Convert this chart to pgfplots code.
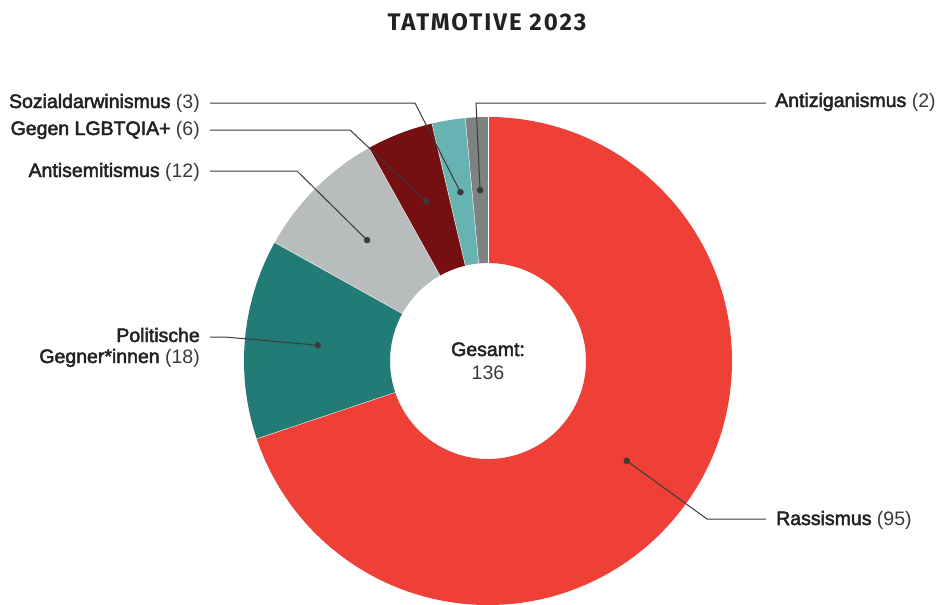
\documentclass[border=0pt]{standalone}
\usepackage{pgfplots}
\pgfplotsset{compat=1.18}
\usepackage{pgfplotstable}
\usepackage{fontspec}
\setmainfont{Liberation Sans}
\newfontfamily\titlefont[LetterSpace=8.5]{Fira Sans}
\newfontfamily\namefont[FakeBold=2.5]{Liberation Sans}
\definecolor{cRed}{HTML}{EE4036}
\definecolor{cTeal}{HTML}{237B76}
\definecolor{cGray}{HTML}{B9BCBD}
\definecolor{cDRed}{HTML}{760F12}
\definecolor{cLTeal}{HTML}{67B3B2}
\definecolor{cDGray}{HTML}{7E8283}
\definecolor{txt}{HTML}{222222}
\definecolor{cnt}{HTML}{3A3A3A}
\definecolor{lead}{HTML}{3A3A3A}

\pgfplotstableread{
idx value
0 95
1 18
2 12
3 6
4 3
5 2
}\tatdata
\pgfplotstablecreatecol[create col/expr accum={\pgfmathaccuma+\thisrow{value}}{0}]{cum}\tatdata
\pgfplotstablecreatecol[create col/expr={90-(\thisrow{cum}-0.5*\thisrow{value})/136*360}]{mid}\tatdata

\begin{document}
\begin{tikzpicture}
\begin{axis}[
  width=937pt, height=605pt, scale only axis,
  xmin=0, xmax=937, ymin=0, ymax=605, y dir=reverse,
  hide axis, clip=false,
]
\pgfplotsextra{%
  \foreach \i/\col in {0/cRed,1/cTeal,2/cGray,3/cDRed,4/cLTeal,5/cDGray}{%
    \pgfplotstablegetelem{\i}{cum}\of\tatdata
    \pgfmathsetmacro\b{90-\pgfplotsretval/136*360}%
    \pgfplotstablegetelem{\i}{value}\of\tatdata
    \pgfmathsetmacro\a{\b+\pgfplotsretval/136*360}%
    \fill[\col, shift={(axis cs:488,361)}] (\a:244pt) arc[start angle=\a, end angle=\b, radius=244pt] -- (\b:98pt) arc[start angle=\b, end angle=\a, radius=98pt] -- cycle;
    \draw[white, line width=1pt, shift={(axis cs:488,361)}] (\b:97pt) -- (\b:244pt);
  }%
}
\draw[lead, line width=1pt] (axis cs:210,103) -- (axis cs:415,103) -- (axis cs:460.5,192.2);
\draw[lead, line width=1pt] (axis cs:210,130) -- (axis cs:350,130) -- (axis cs:426.2,201.5);
\draw[lead, line width=1pt] (axis cs:210,171) -- (axis cs:297,171) -- (axis cs:367.1,240.1);
\draw[lead, line width=1pt] (axis cs:766,103) -- (axis cs:476,103) -- (axis cs:480.1,190.2);
\draw[lead, line width=1pt] (axis cs:210,337) -- (axis cs:225,337) -- (axis cs:317.7,345.2);
\draw[lead, line width=1pt] (axis cs:766,519) -- (axis cs:707,519) -- (axis cs:626.8,460.9);
\addplot[only marks, mark=*, mark size=3pt, color=lead] table[x expr={488+171*cos(\thisrow{mid})}, y expr={361-171*sin(\thisrow{mid})}]{\tatdata};

\tikzset{lab/.style={inner sep=0pt, font=\fontsize{19.5}{22}\selectfont, text=txt}}
\node[lab, anchor=base east] at (axis cs:200,108) {{\namefont Sozialdarwinismus} {\color{cnt}(3)}};
\node[lab, anchor=base east] at (axis cs:200,135) {{\namefont Gegen LGBTQIA+} {\color{cnt}(6)}};
\node[lab, anchor=base east] at (axis cs:200,177) {{\namefont Antisemitismus} {\color{cnt}(12)}};
\node[lab, anchor=base east] at (axis cs:200,342) {{\namefont Politische}};
\node[lab, anchor=base east] at (axis cs:200,363) {{\namefont Gegner*innen} {\color{cnt}(18)}};
\node[lab, anchor=base west] at (axis cs:775,107) {{\namefont Antiziganismus} {\color{cnt}(2)}};
\node[lab, anchor=base west] at (axis cs:776,525) {{\namefont Rassismus} {\color{cnt}(95)}};
\node[lab, anchor=base] at (axis cs:488,356) {\namefont Gesamt:};
\node[lab, anchor=base] at (axis cs:488,379) {\color{cnt}136};
\node[inner sep=0pt, anchor=base, text=txt, font=\titlefont\bfseries\fontsize{24}{27}\selectfont] at (axis cs:487,30) {TATMOTIVE 2023};
\end{axis}
\pgfresetboundingbox
\useasboundingbox (current axis.south west) rectangle (current axis.north east);
\end{tikzpicture}
\end{document}
